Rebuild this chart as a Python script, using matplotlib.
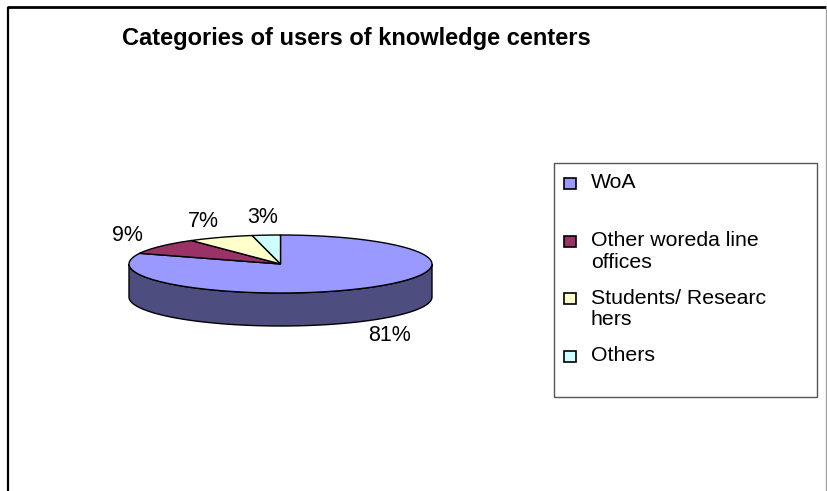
import numpy as np
import matplotlib
matplotlib.use('Agg')
import matplotlib.pyplot as plt
from matplotlib.patches import Polygon, Rectangle
from matplotlib.colors import to_rgb

plt.rcParams['font.family'] = ['Liberation Sans', 'DejaVu Sans']

title = 'Categories of users of knowledge centers'
categories = ['WoA', 'Other woreda line offices', 'Students/ Researchers', 'Others']
legend_lines = ['WoA', 'Other woreda line\noffices', 'Students/ Researc\nhers', 'Others']
shares = [81, 9, 7, 3]
colors = ['#9999FF', '#993366', '#FFFFCC', '#CCFFFF']

W, H = 827, 491
fig = plt.figure(figsize=(W / 100, H / 100), dpi=100)
ax = fig.add_axes([0, 0, 1, 1])
ax.set_xlim(0, W)
ax.set_ylim(H, 0)
ax.axis('off')

# chart frame (bottom is cut off in the original)
ax.plot([7, 826], [7, 7], color='black', lw=2, solid_capstyle='butt')
ax.plot([8, 8], [7, H], color='black', lw=1.6, solid_capstyle='butt')
ax.plot([826, 826], [7, H], color='#a0a0a0', lw=1)

ax.text(122, 38, title, fontsize=17, fontweight='bold', ha='left', va='center')

# 3d pie geometry (pixels)
cx, cy, rx, ry, depth = 280.5, 264, 151.5, 29, 33


def arc(a, b, n=120):
    t = np.radians(np.linspace(a, b, n))
    return cx + rx * np.cos(t), cy - ry * np.sin(t)


# slices start at 12 o'clock and run clockwise
bounds = 90 - 360 * np.cumsum([0] + shares) / sum(shares)

# side walls, only the front half is visible
for i, c in enumerate(colors):
    a, b = bounds[i + 1], bounds[i]
    dark = tuple(0.5 * v for v in to_rgb(c))
    for k in range(-2, 2):
        lo = max(a, 180 + 360 * k)
        hi = min(b, 360 + 360 * k)
        if hi > lo:
            x, y = arc(lo, hi)
            pts = np.column_stack([np.r_[x, x[::-1]], np.r_[y, y[::-1] + depth]])
            ax.add_patch(Polygon(pts, closed=True, facecolor=dark,
                                 edgecolor='black', lw=1, zorder=2))

# top faces
for i, c in enumerate(colors):
    a, b = bounds[i + 1], bounds[i]
    x, y = arc(a, b)
    pts = np.column_stack([np.r_[cx, x], np.r_[cy, y]])
    ax.add_patch(Polygon(pts, closed=True, facecolor=c,
                         edgecolor='black', lw=1, zorder=3))

# percentage labels
mids = (bounds[:-1] + bounds[1:]) / 2
for m, s in zip(mids, shares):
    r = np.radians(m)
    x = cx + 1.28 * rx * np.cos(r)
    y = cy - 1.6 * ry * np.sin(r)
    if np.sin(r) < 0:
        y += depth
    ax.text(x, y, f'{s}%', fontsize=15.5, ha='center', va='center', zorder=4)

# legend box
ax.add_patch(Rectangle((554, 163), 263, 234, facecolor='white',
                       edgecolor='#555555', lw=1, zorder=1))
slot = 57.5
for i, (lab, c) in enumerate(zip(legend_lines, colors)):
    y0 = 183 + i * slot
    ax.add_patch(Rectangle((564, y0 - 5), 12, 11, facecolor=c,
                           edgecolor='black', lw=1.2, zorder=3))
    for j, line in enumerate(lab.split('\n')):
        ax.text(591, y0 + j * 21.5, line, fontsize=15.3, ha='left',
                va='center', zorder=4)

fig.savefig('out.png', dpi=100)
